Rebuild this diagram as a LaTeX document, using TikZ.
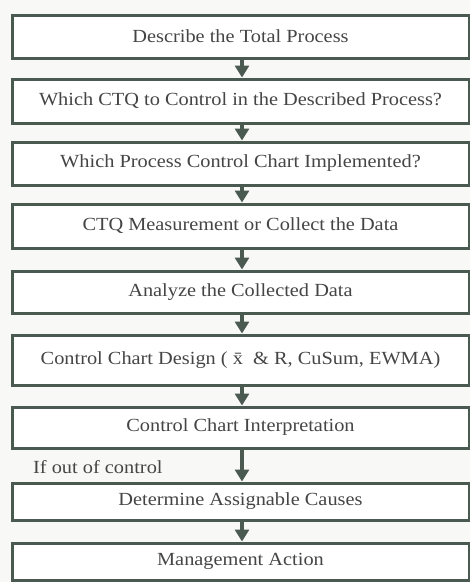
\documentclass[tikz,border=0pt]{standalone}
\usepackage{fontspec}
\setmainfont{Liberation Serif}[FakeStretch=1.1]
\usepackage{tikz}
\usetikzlibrary{arrows.meta,positioning}
\definecolor{frameline}{HTML}{4A5A50}
\definecolor{inkgray}{HTML}{454545}
\definecolor{paper}{HTML}{F8F9F7}

\begin{document}
\begin{tikzpicture}[x=1pt, y=-1pt,
  stepbox/.style={draw=frameline, line width=3pt, fill=white,
    minimum width=457pt, inner sep=0pt, text=inkgray,
    font=\fontsize{18.5}{20}\selectfont},
  flow/.style={draw=frameline, line width=3.2pt,
    -{Triangle[length=12pt,width=14pt]}}]
\fill[paper] (0,0) rectangle (470,582);
\useasboundingbox (0,0) rectangle (470,582);
% boxes: number / centre / height / text
\foreach \n/\yc/\boxh/\txt in {
  1/36.5/43/{Describe the Total Process},
  2/101/44/{Which CTQ to Control in the Described Process?},
  3/163.5/43/{Which Process Control Chart Implemented?},
  4/226/44/{CTQ Measurement or Collect the Data},
  5/292/42/{Analyze the Collected Data},
  6/360/50/{Control Chart Design ( \={x}\ \ \& R, CuSum, EWMA)},
  7/427.5/41/{Control Chart Interpretation},
  8/501.5/37/{Determine Assignable Causes},
  9/561.5/37/{Management Action}} {
  \node[stepbox, minimum height=\boxh pt] (b\n) at (240.5,\yc) {\txt};
}
\foreach \a/\b in {1/2,2/3,3/4,4/5,5/6,6/7,7/8,8/9}
  \draw[flow] ([xshift=1.5pt]b\a.south) -- ([xshift=1.5pt]b\b.north);
\node[anchor=west, text=inkgray, font=\fontsize{18.5}{20}\selectfont,
  inner sep=0pt] (ooc) at (33,467) {If out of control};
\end{tikzpicture}
\end{document}
